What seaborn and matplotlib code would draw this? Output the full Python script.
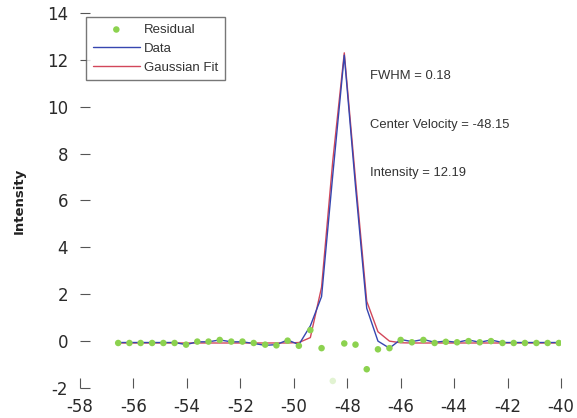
import matplotlib
matplotlib.use("Agg")
import matplotlib.pyplot as plt
import numpy as np
import pandas as pd
import seaborn as sns

# ---- data ----
velocity = [-56.57, -56.15, -55.73, -55.30, -54.88, -54.46, -54.03, -53.61,
            -53.19, -52.77, -52.34, -51.92, -51.50, -51.07, -50.65, -50.23,
            -49.81, -49.38, -48.96, -48.54, -48.11, -47.69, -47.27, -46.85,
            -46.42, -46.00, -45.58, -45.15, -44.73, -44.31, -43.89, -43.46,
            -43.04, -42.62, -42.19, -41.77, -41.35, -40.92, -40.50, -40.08]

data_intensity = [-0.06, -0.06, -0.06, -0.06, -0.06, -0.06, -0.15, -0.03,
                  -0.03, 0.05, -0.03, -0.03, -0.10, -0.18, -0.15, 0.05,
                  -0.15, 0.65, 1.90, 7.10, 12.20, 6.60, 1.40, 0.00,
                  -0.30, 0.07, -0.02, 0.07, -0.05, 0.00, -0.05, 0.05,
                  -0.05, 0.05, -0.06, -0.06, -0.06, -0.06, -0.06, -0.06]

fit_intensity = [-0.08, -0.08, -0.08, -0.08, -0.08, -0.08, -0.08, -0.08,
                 -0.08, -0.08, -0.08, -0.08, -0.08, -0.08, -0.08, -0.08,
                 -0.06, 0.15, 2.30, 7.70, 12.30, 6.90, 1.70, 0.40,
                 0.00, -0.07, -0.08, -0.08, -0.08, -0.08, -0.08, -0.08,
                 -0.08, -0.08, -0.08, -0.08, -0.08, -0.08, -0.08, -0.08]

residual = [-0.08, -0.08, -0.08, -0.08, -0.08, -0.08, -0.15, -0.02,
            -0.02, 0.05, -0.02, -0.02, -0.08, -0.15, -0.18, 0.02,
            -0.20, 0.47, -0.30, -1.70, -0.10, -0.15, -1.20, -0.35,
            -0.30, 0.05, -0.05, 0.05, -0.08, -0.03, -0.05, 0.00,
            -0.05, 0.00, -0.08, -0.08, -0.08, -0.08, -0.08, -0.08]

x_ticks = [-58, -56, -54, -52, -50, -48, -46, -44, -42, -40]
y_ticks = [-2, 0, 2, 4, 6, 8, 10, 12, 14]
fit_labels = ["FWHM = 0.18", "Center Velocity = -48.15", "Intensity = 12.19"]
series_names = ["Residual", "Data", "Gaussian Fit"]

# ---- figure ----
sns.set_style("white")
plt.rcParams["font.family"] = ["DejaVu Sans"]

fig = plt.figure(figsize=(5.77, 4.18), dpi=100)
ax = fig.add_axes([0.1386, 0.0718, 0.8337, 0.8971])

df = pd.DataFrame({"velocity": velocity, "data": data_intensity,
                   "fit": fit_intensity, "residual": residual})

blue = "#3646b0"
red = "#d2475a"
green = "#8cd24f"

sns.lineplot(data=df, x="velocity", y="data", ax=ax, color=blue,
             linewidth=1.0, label=series_names[1], zorder=3)
sns.lineplot(data=df, x="velocity", y="fit", ax=ax, color=red,
             linewidth=1.0, label=series_names[2], zorder=2)
sns.scatterplot(data=df, x="velocity", y="residual", ax=ax, color=green,
                s=22, edgecolor="none", label=series_names[0], zorder=4)

# the one faint residual point at the peak's rising edge
coll = ax.collections[-1]
alphas = np.ones(len(residual))
alphas[int(np.argmin(residual))] = 0.25
coll.set_alpha(alphas)

ax.set_xlim(-58, -40)
ax.set_ylim(-2, 14)
ax.set_xticks(x_ticks)
ax.set_yticks(y_ticks)
ax.set_xticklabels([str(t) for t in x_ticks])
ax.set_yticklabels([str(t) for t in y_ticks])
ax.set_xlabel("")
ax.set_ylabel("Intensity", fontsize=9.5, fontweight="bold", color="#222222",
              labelpad=15)
for s in ax.spines.values():
    s.set_visible(False)
ax.tick_params(axis="both", direction="in", length=7.2, width=0.8,
               color="#555555", labelsize=12, labelcolor="#2a2a2a",
               bottom=True, left=True)
ax.tick_params(axis="y", pad=8.5)
ax.tick_params(axis="x", pad=7)

# annotations
ann_font = dict(family=["Liberation Sans", "DejaVu Sans"], fontsize=9.4,
                color="#333333", va="center", ha="left")
ax.text(-47.16, 11.3, fit_labels[0], **ann_font)
ax.text(-47.16, 9.23, fit_labels[1], **ann_font)
ax.text(-47.16, 7.19, fit_labels[2], **ann_font)

# legend: Residual, Data, Gaussian Fit
handles, labels = ax.get_legend_handles_labels()
order = [labels.index(n) for n in series_names]
leg = ax.legend([handles[i] for i in order], [labels[i] for i in order],
                loc="upper left", bbox_to_anchor=(0.0125, 0.989),
                borderaxespad=0, frameon=True, fancybox=False,
                handlelength=3.6, handletextpad=0.3, borderpad=0.5,
                labelspacing=0.5,
                prop={"family": ["Liberation Sans", "DejaVu Sans"], "size": 9.5})
leg.get_frame().set_edgecolor("#555555")
leg.get_frame().set_linewidth(1.0)
for t in leg.get_texts():
    t.set_color("#333333")

fig.savefig("out.png", dpi=100)
